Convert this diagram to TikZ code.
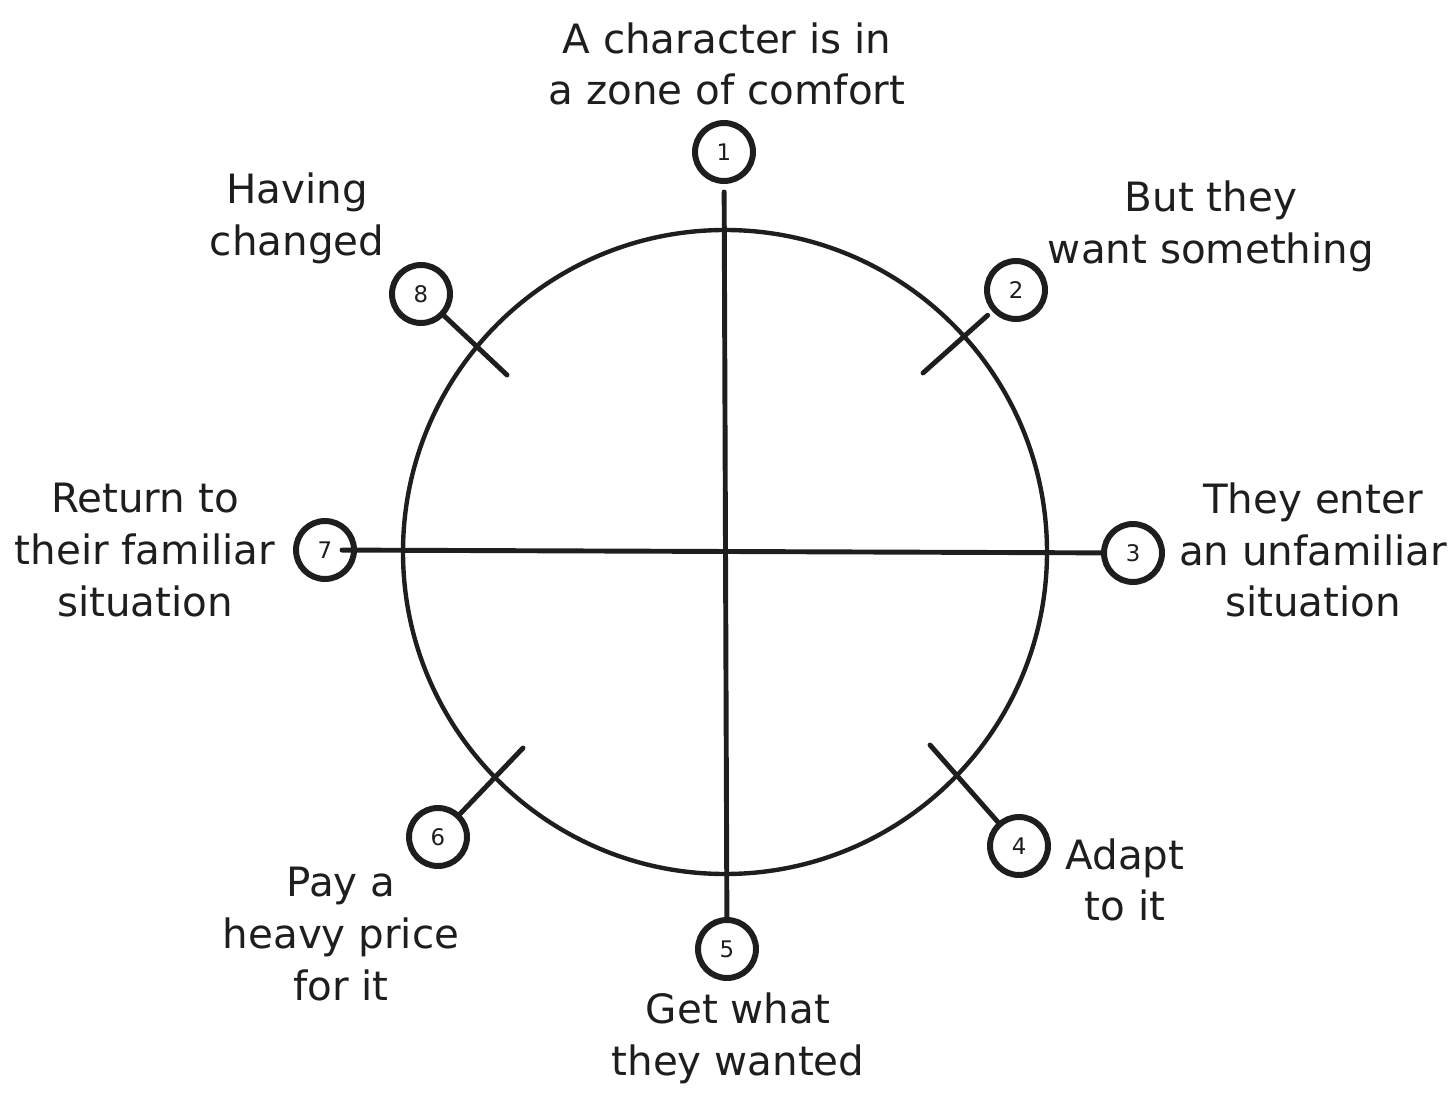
\documentclass[tikz,border=0pt]{standalone}
\usepackage{fontspec}
\setmainfont{DejaVu Sans}
\usepackage{xcolor}
\usepackage{tikz}
\usetikzlibrary{positioning,calc}
\definecolor{ink}{HTML}{1E1E1E}

\begin{document}
\begin{tikzpicture}[
        x=0.02cm, y=-0.02cm,
        station/.style={draw=ink, circle, line width=3.4pt, minimum size=1.16cm, inner sep=0pt, text=ink, font=\fontsize{13}{15}\selectfont},
        story/.style={align=center, text=ink, font=\fontsize{23}{29.5}\selectfont},
        spoke/.style={draw=ink, line width=2.8pt, line cap=round},
        ring/.style={draw=ink, line width=2.5pt}
    ]
    \useasboundingbox (0,0) rectangle (1456,1104);

    % centre of the circle
    \coordinate (c) at (725,552);
    \draw[ring] (c) circle[radius=322];

    % stations
    \node[station] (n1) at (724,152) {1};
    \node[station] (n2) at (1016,290) {2};
    \node[station] (n3) at (1133,553) {3};
    \node[station] (n4) at (1019,846) {4};
    \node[station] (n5) at (727,949) {5};
    \node[station] (n6) at (438,837) {6};
    \node[station] (n7) at (325,550) {7};
    \node[station] (n8) at (421,294) {8};

    % inner ends of the short spokes
    \coordinate (e2) at (923,373);
    \coordinate (e4) at (930,745);
    \coordinate (e6) at (523,748);
    \coordinate (e8) at (507,375);

    % spokes
    \draw[spoke, shorten <=0.16cm] (n1) -- (n5);
    \draw[spoke, shorten <=-0.3cm] (n7) -- (n3);
    \draw[spoke, shorten <=0.12cm] (n2) -- (e2);
    \draw[spoke] (n4) -- (e4);
    \draw[spoke] (n6) -- (e6);
    \draw[spoke] (n8) -- (e8);

    % labels
    \node[story] (lbl1) at (727,64) {A character is in\\a zone of comfort};
    \node[story] (lbl2) at (1211,226) {But they\\want something};
    \node[story] (lbl3) at (1313,550) {They enter\\an unfamiliar\\situation};
    \node[story] (lbl4) at (1125,880) {Adapt\\to it};
    \node[story] (lbl5) at (738,1038) {Get what\\they wanted};
    \node[story] (lbl6) at (341,934) {Pay a\\heavy price\\for it};
    \node[story] (lbl7) at (145,550) {Return to\\their familiar\\situation};
    \node[story] (lbl8) at (297,218) {Having\\changed};

\end{tikzpicture}
\end{document}
